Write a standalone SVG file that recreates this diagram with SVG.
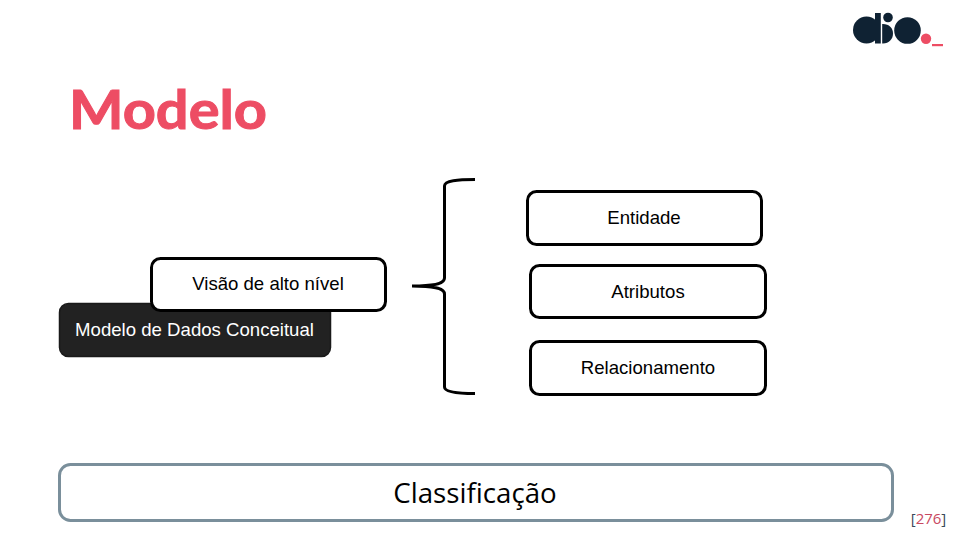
<svg xmlns="http://www.w3.org/2000/svg" width="960" height="540" viewBox="0 0 960 540">
<style>
.box{fill:#fff;stroke:#000;stroke-width:3}
.t{font-family:"Liberation Sans",Arial,sans-serif;font-size:18.6px;text-anchor:middle;fill:#000}
.logo{fill:#0f2233}
</style>
<rect width="960" height="540" fill="#fff"/>
<g id="logo">
<circle class="logo" cx="866.500" cy="30" r="13.500"/>
<rect class="logo" x="875" y="13" width="5.800" height="30.500"/>
<circle class="logo" cx="888" cy="17.500" r="4.800"/>
<path class="logo" d="M882.200 24H883C889 24 893 28 893 33.500C893 39 889 43.500 883 43.500H882.200Z"/>
<circle class="logo" cx="907.500" cy="30.500" r="13.300"/>
<circle cx="926" cy="38.700" r="5.200" fill="#ed4d64"/>
<rect x="932" y="44" width="11" height="2.200" fill="#ed4d64"/>
</g>
<text id="title" x="69" y="129" font-family="Lato,'Liberation Sans',sans-serif" font-size="53" font-weight="700" fill="#ed4d64" stroke="#ed4d64" stroke-width="1" textLength="198" lengthAdjust="spacingAndGlyphs">Modelo</text>
<g id="conceitual">
<rect x="59.500" y="303.500" width="271" height="53" rx="9" fill="#222" stroke="#1a1a1a" stroke-width="1.500"/>
<text class="t" x="194.500" y="336" style="fill:#fff">Modelo de Dados Conceitual</text>
</g>
<g id="visao">
<rect class="box" x="151.500" y="258.500" width="234" height="52" rx="9"/>
<text class="t" x="268" y="290">Visão de alto nível</text>
</g>
<g id="connectors">
<path d="M475 179.500C458 179.500 444.500 180.500 444.500 186V278C444.500 283 438 286 412 286C438 286 444.500 289 444.500 294V387C444.500 392 458 393.500 475 393.500" fill="none" stroke="#000" stroke-width="3"/>
</g>
<g id="entidade">
<rect class="box" x="527.500" y="191.500" width="234" height="53" rx="9"/>
<text class="t" x="644" y="224">Entidade</text>
</g>
<g id="atributos">
<rect class="box" x="530.500" y="265.500" width="235" height="52" rx="9"/>
<text class="t" x="648" y="298">Atributos</text>
</g>
<g id="relacionamento">
<rect class="box" x="530.500" y="341.500" width="235" height="53" rx="9"/>
<text class="t" x="648" y="374">Relacionamento</text>
</g>
<g id="classificacao">
<rect x="59.500" y="464.500" width="833" height="56" rx="11" fill="#fff" stroke="#7a8f9b" stroke-width="3"/>
<text x="475" y="503" font-family="'Open Sans','Noto Sans',sans-serif" font-size="27.700" text-anchor="middle" fill="#000">Classificação</text>
</g>
<text id="page" x="928.500" y="524" font-family="'Open Sans','Noto Sans',sans-serif" font-size="15" text-anchor="middle" fill="#c8485f"><tspan fill="#3a4a5a">[</tspan>276<tspan fill="#3a4a5a">]</tspan></text>
</svg>
